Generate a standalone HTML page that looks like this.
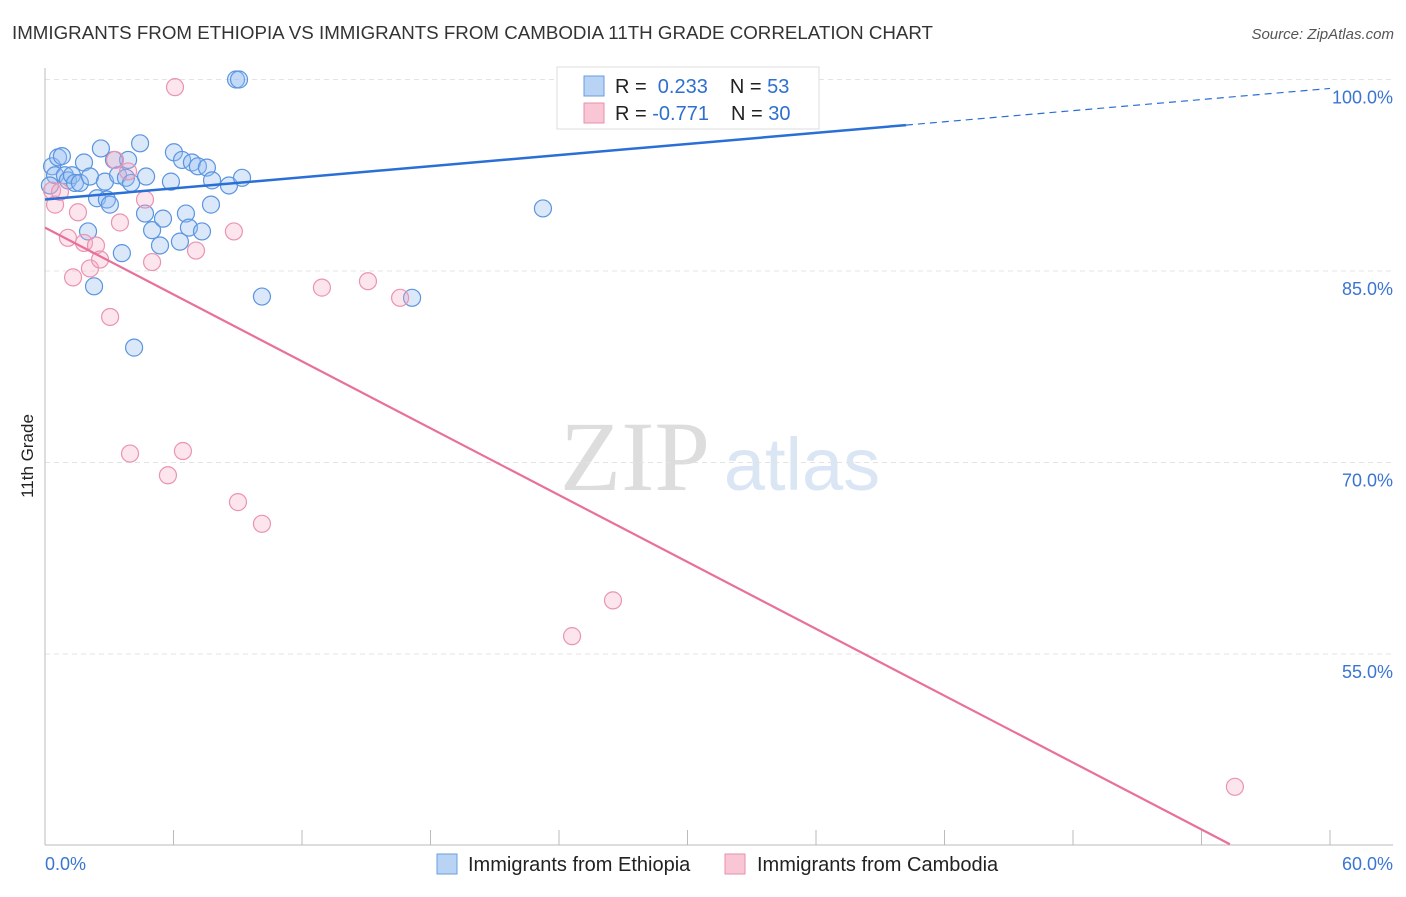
<!DOCTYPE html>
<html><head><meta charset="utf-8"><style>
body{margin:0;background:#fff;font-family:"Liberation Sans",sans-serif}
</style></head><body>
<svg id="c" width="1406" height="892" xmlns="http://www.w3.org/2000/svg">
<text x="12" y="39" font-size="18" fill="#333" textLength="921" lengthAdjust="spacingAndGlyphs">IMMIGRANTS FROM ETHIOPIA VS IMMIGRANTS FROM CAMBODIA 11TH GRADE CORRELATION CHART</text>
<text x="1394" y="39" font-size="15" fill="#555" text-anchor="end" font-style="italic">Source: ZipAtlas.com</text>
<text x="635" y="490" font-size="100" fill="#ddd" font-family="Liberation Serif,serif" text-anchor="middle">ZIP</text>
<text x="802" y="490" font-size="74" fill="#dbe6f5" text-anchor="middle">atlas</text>
<text transform="translate(33,456) rotate(-90)" font-size="17" fill="#222" text-anchor="middle">11th Grade</text>
<g id="grid"></g><g id="pts"></g><g id="lines"></g>
<g>
<rect x="557" y="67" width="262" height="62" fill="#fff" stroke="#ddd"/>
<rect x="584" y="76" width="20" height="20" fill="#b9d3f5" stroke="#6a9de0"/>
<rect x="584" y="103" width="20" height="20" fill="#f9c6d5" stroke="#e98fab"/>
<text x="615" y="93" font-size="20" fill="#222">R = <tspan fill="#2f6fd0">&#160;0.233</tspan><tspan dx="22" fill="#222">N = </tspan><tspan fill="#2f6fd0">53</tspan></text>
<text x="615" y="120" font-size="20" fill="#222">R = <tspan fill="#2f6fd0">-0.771</tspan><tspan dx="22" fill="#222">N = </tspan><tspan fill="#2f6fd0">30</tspan></text>
</g>
<g>
<rect x="437" y="854" width="20" height="20" fill="#b9d3f5" stroke="#6a9de0"/>
<text x="468" y="871" font-size="20" fill="#222">Immigrants from Ethiopia</text>
<rect x="725" y="854" width="20" height="20" fill="#f9c6d5" stroke="#e98fab"/>
<text x="757" y="871" font-size="20" fill="#222">Immigrants from Cambodia</text>
</g>
<text x="45" y="870" font-size="18" fill="#3a75d0">0.0%</text>
<text x="1393" y="870" font-size="18" fill="#3a75d0" text-anchor="end">60.0%</text>
</svg>
<script>
const blueX=[0.33,0.47,0.23,0.61,0.79,0.93,1.07,1.26,1.40,1.63,1.82,2.01,2.10,2.29,2.43,2.61,2.80,2.89,3.03,3.22,3.41,3.59,3.78,3.88,4.02,4.16,4.44,4.67,4.72,5.00,5.37,5.51,5.88,6.02,6.30,6.40,6.58,6.72,6.86,7.14,7.33,7.56,7.75,7.80,8.59,8.92,9.06,9.20,10.13,17.14,23.25,33.01];
const blueY=[93.2,92.5,91.7,93.9,94.0,92.5,92.1,92.5,91.9,91.9,93.5,88.1,92.4,83.8,90.7,94.6,92.0,90.6,90.2,93.7,92.5,86.4,92.3,93.7,91.9,79.0,95.0,89.5,92.4,88.2,87.0,89.1,92.0,94.3,87.3,93.7,89.5,88.4,93.5,93.2,88.1,93.1,90.2,92.1,91.7,100,100,92.3,83.0,82.9,89.9,100];
const pinkX=[0.33,0.47,0.70,1.07,1.31,1.54,1.82,2.10,2.38,2.57,3.04,3.27,3.50,3.88,3.97,4.67,5.00,5.74,6.07,6.44,7.05,8.82,9.01,10.13,12.93,15.08,16.58,24.61,26.52,55.56];
const pinkY=[91.3,90.2,91.2,87.6,84.5,89.6,87.2,85.2,87.0,85.9,81.4,93.7,88.8,92.8,70.7,90.6,85.7,69.0,99.4,70.9,86.6,88.1,66.9,65.2,83.7,84.2,82.9,56.4,59.2,44.6];
const yTicks=[100,85,70,55];
const blueLine=[90.6,0.145];
const pinkLine=[88.4,-0.873];
const NS="http://www.w3.org/2000/svg";
const sx=v=>45+v/60*1285, sy=v=>79.5+(100-v)*12.767;
function mk(t,a,p){const e=document.createElementNS(NS,t);for(const k in a)e.setAttribute(k,a[k]);p.appendChild(e);return e;}
const g=document.getElementById('grid');
yTicks.forEach(t=>{
 const l=mk('line',{x1:45,x2:1393,y1:sy(t),y2:sy(t),stroke:'#e3e3e3','stroke-dasharray':'5,4'},g);
 
 
 const tx=mk('text',{x:1393,y:sy(t)+24,'font-size':18,fill:'#3a75d0','text-anchor':'end'},g);
 tx.textContent=t.toFixed(1)+'%';
 
 
});
const ax=mk('line',{x1:45,x2:45,y1:68,y2:845,stroke:'#bbb'},g);


const bx=mk('line',{x1:45,x2:1393,y1:845,y2:845,stroke:'#bbb'},g);


for(let i=0;i<=10;i++){const t=mk('line',{x1:sx(i*6),x2:sx(i*6),y1:830,y2:845,stroke:'#bbb'},g);
 
 }
const p=document.getElementById('pts');
blueX.forEach((x,i)=>{const c=mk('circle',{cx:sx(x),cy:sy(blueY[i]),r:8.5,fill:'rgba(150,190,240,0.35)',stroke:'#5b95e0','stroke-width':1.2},p);
 
 });
pinkX.forEach((x,i)=>{const c=mk('circle',{cx:sx(x),cy:sy(pinkY[i]),r:8.5,fill:'rgba(245,170,195,0.3)',stroke:'#eb94b0','stroke-width':1.2},p);
 
 });
const L=document.getElementById('lines');
const bf=x=>blueLine[0]+blueLine[1]*x, pf=x=>pinkLine[0]+pinkLine[1]*x;
const b1=mk('line',{x1:sx(0),y1:sy(bf(0)),x2:sx(40.2),y2:sy(bf(40.2)),stroke:'#2a6fd6','stroke-width':2.5},L);


const b2=mk('line',{x1:sx(40.2),y1:sy(bf(40.2)),x2:sx(60),y2:sy(bf(60)),stroke:'#2a6fd6','stroke-width':1.2,'stroke-dasharray':'7,5'},L);


const xe=(40.1-pinkLine[0])/pinkLine[1];
const p1=mk('line',{x1:sx(0),y1:sy(pf(0)),x2:sx(xe),y2:sy(pf(xe)),stroke:'#e8709a','stroke-width':2.2},L);


</script>
</body></html>
